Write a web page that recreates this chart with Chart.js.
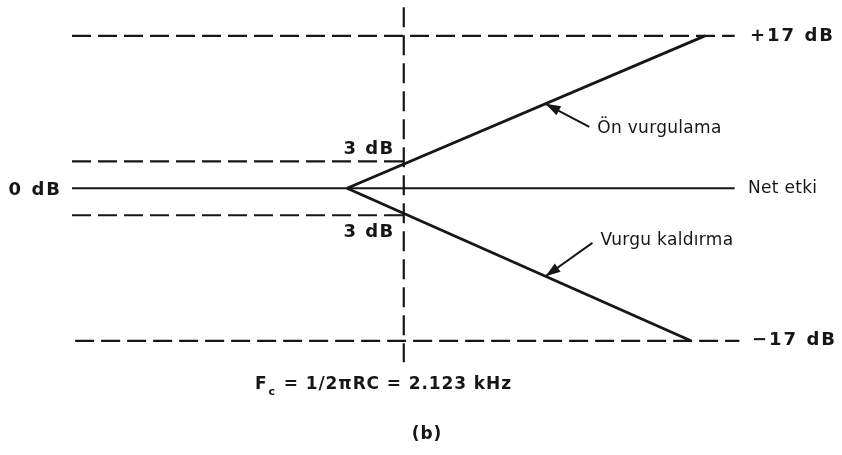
<!DOCTYPE html>
<html lang="tr">
<head>
  <meta charset="UTF-8" />
  <title>Ön vurgulama / Vurgu kaldırma</title>
  <script src="https://cdn.jsdelivr.net/npm/chart.js"></script>
  <style>
    body {
      margin: 0;
      padding: 0;
      background: #fff;
    }
    #grafik {
      display: block;
    }
  </style>
</head>
<body>
  <canvas id="grafik" width="842" height="455"></canvas>

  <script>
    // frekans ekseni (kHz, şematik) ve dB değerleri
    const fc = 2.123;
    const kirilmaF = 1.76;

    const netX = [0, 4.24];
    const netY = [0, 0];

    const onVurguX = [kirilmaF, 4.05];
    const onVurguY = [0, 17];

    const kaldirmaX = [kirilmaF, 3.96];
    const kaldirmaY = [0, -17];

    // kesikli seviye çizgileri
    const seviyeler = [17, 3, -3, -17];
    const seviyeBas = [0, 0, 0, 0.02];
    const seviyeSon = [4.24, fc, fc, 4.27];
    const seviyeEtiket = ["+17 dB", "3 dB", "3 dB", "\u221217 dB"];

    const dikeyY = [20.2, -19.4];

    // oklar: kuyruk -> uç
    const okKuyrukX = [3.31, 3.33];
    const okKuyrukY = [6.86, -6.08];
    const okUcX = [3.03, 3.03];
    const okUcY = [9.43, -9.81];
    const okEtiket = ["Ön vurgulama", "Vurgu kaldırma"];

    const RENK = "#161616";
    const KESIK = [19, 7];
    const YAZI = "'DejaVu Sans', Verdana, sans-serif";

    const pts = (xs, ys) => xs.map((x, i) => ({ x: x, y: ys[i] }));

    const datasets = [];

    seviyeler.forEach((s, i) => {
      datasets.push({
        data: [{ x: seviyeBas[i], y: s }, { x: seviyeSon[i], y: s }],
        borderColor: RENK,
        borderWidth: 2.2,
        borderDash: KESIK
      });
    });

    datasets.push({
      data: [{ x: fc, y: dikeyY[0] }, { x: fc, y: dikeyY[1] }],
      borderColor: RENK,
      borderWidth: 2.2,
      borderDash: [20, 8]
    });

    datasets.push({ data: pts(netX, netY), borderColor: RENK, borderWidth: 2 });
    datasets.push({ data: pts(onVurguX, onVurguY), borderColor: RENK, borderWidth: 2.8 });
    datasets.push({ data: pts(kaldirmaX, kaldirmaY), borderColor: RENK, borderWidth: 2.8 });

    okUcX.forEach((x, i) => {
      datasets.push({
        data: [{ x: okKuyrukX[i], y: okKuyrukY[i] }, { x: x, y: okUcY[i] }],
        borderColor: RENK,
        borderWidth: 2,
        ok: true
      });
    });

    const etiketler = {
      id: "etiketler",
      afterDatasetsDraw(chart) {
        const ctx = chart.ctx;
        const xs = chart.scales.x;
        const ys = chart.scales.y;
        ctx.save();
        ctx.fillStyle = RENK;

        // ok uçları
        chart.data.datasets.forEach((ds, i) => {
          if (!ds.ok) return;
          const el = chart.getDatasetMeta(i).data;
          const a = el[0], b = el[1];
          const ang = Math.atan2(b.y - a.y, b.x - a.x);
          const L = 15, W = 5;
          ctx.beginPath();
          ctx.moveTo(b.x, b.y);
          ctx.lineTo(b.x - L * Math.cos(ang) + W * Math.sin(ang), b.y - L * Math.sin(ang) - W * Math.cos(ang));
          ctx.lineTo(b.x - L * Math.cos(ang) - W * Math.sin(ang), b.y - L * Math.sin(ang) + W * Math.cos(ang));
          ctx.closePath();
          ctx.fill();
        });

        ctx.textBaseline = "middle";
        ctx.letterSpacing = "2px";

        // 0 dB
        ctx.font = "bold 18px " + YAZI;
        ctx.textAlign = "right";
        ctx.fillText("0 dB", xs.left - 10, ys.getPixelForValue(0) + 2);

        // seviye etiketleri
        ctx.textAlign = "left";
        ctx.fillText(seviyeEtiket[0], xs.right + 6, ys.getPixelForValue(17));
        ctx.fillText(seviyeEtiket[3], xs.right + 8, ys.getPixelForValue(-17));
        ctx.textAlign = "right";
        const fx = xs.getPixelForValue(fc);
        ctx.letterSpacing = "1.5px";
        ctx.fillText(seviyeEtiket[1], fx - 9, ys.getPixelForValue(3) - 12);
        ctx.fillText(seviyeEtiket[2], fx - 9, ys.getPixelForValue(-3) + 17);

        // eğri etiketleri
        ctx.font = "17px " + YAZI;
        ctx.letterSpacing = "0.3px";
        ctx.textAlign = "left";
        for (let i = 0; i < okEtiket.length; i++) {
          const kx = xs.getPixelForValue(okKuyrukX[i]);
          const ky = ys.getPixelForValue(okKuyrukY[i]);
          ctx.fillText(okEtiket[i], kx + 8, ky + (i === 0 ? 2 : -2));
        }
        ctx.fillText("Net etki", xs.right + 4, ys.getPixelForValue(0));

        // Fc formülü
        ctx.font = "bold 17px " + YAZI;
        ctx.letterSpacing = "0.9px";
        const fy = 385;
        let x0 = 255;
        ctx.fillText("F", x0, fy);
        x0 += ctx.measureText("F").width;
        ctx.font = "bold 11px " + YAZI;
        ctx.fillText("c", x0 + 1, fy + 7);
        x0 += ctx.measureText("c").width + 2;
        ctx.font = "bold 17px " + YAZI;
        ctx.fillText(" = 1/2\u03c0RC = 2.123 kHz", x0, fy);

        ctx.letterSpacing = "1px";
        ctx.textAlign = "center";
        ctx.fillText("(b)", 427, 435);
        ctx.restore();
      }
    };

    new Chart(document.getElementById("grafik"), {
      type: "line",
      data: { datasets: datasets },
      options: {
        responsive: false,
        animation: false,
        layout: { padding: { left: 72, right: 98, top: 0, bottom: 90 } },
        elements: { point: { radius: 0 }, line: { tension: 0, borderCapStyle: "butt" } },
        scales: {
          x: { type: "linear", min: 0, max: 4.3, display: false },
          y: { type: "linear", min: -19.7, max: 21, display: false }
        },
        plugins: {
          legend: { display: false },
          tooltip: { enabled: false }
        }
      },
      plugins: [etiketler]
    });
  </script>
</body>
</html>
